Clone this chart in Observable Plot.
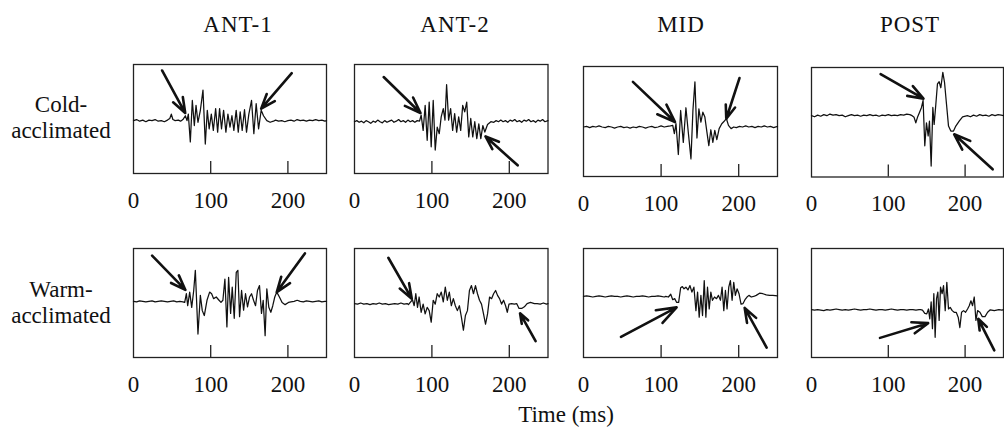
<!DOCTYPE html>
<html><head><meta charset="utf-8">
<script src="https://cdn.jsdelivr.net/npm/d3@7"></script>
<script src="https://cdn.jsdelivr.net/npm/@observablehq/plot@0.6"></script>
<style>
body{margin:0;background:#fff}
#chart{position:relative;width:1004px;height:430px;overflow:hidden;font-family:"Liberation Serif","Times New Roman",serif;color:#111}
#chart svg.panel{position:absolute}
#chart svg.labels{position:absolute;left:0;top:0}
</style></head><body><div id="chart"></div>
<script>
// ---------- data ----------
const muscles = ["ANT-1", "ANT-2", "MID", "POST"];
const groups = [["Cold-", "acclimated"], ["Warm-", "acclimated"]];
const xLabel = "Time (ms)";
const xTicks = [0, 100, 200];
const innerTicks = [100, 200];

// traces: [time ms, amplitude]
const coldAnt1 = [[0,-0.03],[4,-0.01],[8,-0.04],[12,-0.02],[16,-0.05],[20,-0.02],[24,-0.03],[28,-0.01],[32,-0.04],[36,-0.03],[40,-0.05],[44,-0.02],[47,0.01],[49,0.09],[51,-0.01],[54,-0.03],[58,-0.02],[61,-0.04],[64,-0.01],
[67.2,0.06],[69.3,-0.03],[71,0.09],[73.6,-0.42],[76.2,0.34],[78.8,-0.12],[81,0.25],[83.5,-0.06],[86.6,0.16],[90,0.53],[93,-0.46],[95.6,0.16],[98,-0.18],[100.8,0.09],[103.4,-0.21],[106.4,0.19],[109,-0.24],[111.5,0.19],[114,-0.18],[116.7,0.16],[119.7,-0.24],[122.3,0.09],[125,-0.15],[127.5,0.06],[130,-0.21],[133,0.16],[135.7,-0.24],[138.2,0.13],[140.8,-0.21],[143.8,0.17],[146.4,-0.24],[149.4,0.09],[152.9,0.34],[155.9,-0.27],[158.9,0.28],[162,-0.18],[165.4,0.16],[168.4,0.06],[172.7,-0.03],[177,-0.06],[181.3,-0.04],
[184,-0.02],[188,-0.04],[192,-0.03],[196,-0.05],[200,-0.03],[204,-0.02],[208,-0.04],[212,-0.01],[216,-0.03],[220,-0.02],[224,-0.04],[228,-0.02],[232,-0.03],[236,-0.01],[240,-0.03],[244,-0.02],[248,-0.04],[250,-0.03]];

const coldAnt2 = [[0,-0.05],[3,-0.03],[6,-0.06],[9,-0.04],[12,-0.07],[15,-0.03],[18,-0.05],[21,-0.08],[24,-0.04],[27,-0.06],[30,-0.02],[33,-0.05],[36,-0.07],[39,-0.03],[42,-0.06],[45,-0.04],[48,-0.02],[51,-0.06],[54,-0.04],[57,-0.01],[60,-0.05],[63,-0.03],[66,-0.06],[69,-0.02],[72,-0.05],[75,-0.03],[78,-0.06],[81,-0.03],[84,-0.04],
[86.1,0.07],[88.7,-0.21],[91.3,0.25],[93.9,-0.39],[96.5,0.31],[99.1,-0.51],[101.7,0.34],[104.3,-0.57],[106.9,-0.15],[109.5,-0.27],[112,0.04],[114.7,0.19],[116.9,-0.02],[119,0.63],[121.6,-0.02],[124.2,0.19],[126.8,-0.21],[129.4,0.10],[132,-0.24],[134.6,0.04],[137.2,-0.21],[139.8,0.25],[142.4,0.13],[145,0.31],[147.6,-0.33],[150.2,0.01],[152.8,-0.33],[155.4,-0.05],[158,-0.36],[160.6,-0.09],[163.2,-0.36],[165.8,-0.12],[168.4,-0.24],[171.9,-0.10],[176.2,-0.05],
[180,-0.06],[183,-0.03],[186,-0.05],[189,-0.02],[192,-0.05],[195,-0.03],[198,-0.06],[201,-0.02],[204,-0.04],[207,-0.01],[210,-0.05],[213,-0.03],[216,-0.06],[219,-0.02],[222,-0.04],[225,-0.01],[228,-0.05],[231,-0.03],[234,-0.06],[237,-0.02],[240,-0.04],[243,-0.01],[246,-0.05],[250,-0.03]];

const coldMid = [[0,-0.10],[4,-0.09],[8,-0.11],[12,-0.09],[16,-0.10],[20,-0.08],[24,-0.10],[28,-0.11],[32,-0.09],[36,-0.10],[40,-0.12],[44,-0.10],[48,-0.09],[52,-0.11],[56,-0.10],[60,-0.12],[64,-0.10],[68,-0.11],[72,-0.09],[76,-0.10],[80,-0.12],[84,-0.10],[88,-0.09],[92,-0.11],[96,-0.10],[100,-0.08],[104,-0.10],[108,-0.09],[112,-0.08],
[115,-0.07],[117.1,-0.22],[119.2,-0.04],[122.2,-0.60],[125.2,0.20],[128.6,-0.38],[132,0.25],[135,-0.19],[138.5,-0.68],[141,0.20],[143.6,0.72],[146.2,-0.30],[148.7,0.23],[151.3,-0.01],[153.8,0.17],[156.4,0.08],[159,-0.19],[161.5,-0.44],[164.1,-0.15],[166.7,-0.38],[169.2,-0.16],[171.8,-0.33],[174.8,-0.13],[178.2,-0.04],[181.6,0.01],[184.2,0.05],[186.8,-0.07],[190.2,-0.13],[193.6,-0.10],
[197,-0.11],[201,-0.09],[205,-0.10],[209,-0.08],[213,-0.10],[217,-0.09],[221,-0.11],[225,-0.09],[229,-0.10],[233,-0.08],[237,-0.10],[241,-0.09],[245,-0.11],[250,-0.09]];

const coldPost = [[0,0.12],[4,0.10],[8,0.13],[12,0.11],[16,0.14],[20,0.12],[24,0.15],[28,0.13],[32,0.14],[36,0.12],[40,0.13],[44,0.10],[48,0.12],[52,0.14],[56,0.12],[60,0.13],[64,0.11],[68,0.13],[72,0.12],[76,0.14],[80,0.12],[84,0.13],[88,0.11],[92,0.13],[96,0.12],[100,0.14],[104,0.12],[108,0.13],[112,0.12],[116,0.14],[120,0.13],[124,0.15],[128,0.14],[131,0.12],
[133.6,0.09],[135.8,-0.01],[138,0.09],[140.6,0.18],[143.2,0.27],[145.3,0.40],[147.5,-0.43],[149.7,-0.01],[151.9,-0.25],[153.6,0.02],[155.8,-0.80],[158,0.27],[159.7,-0.04],[161.9,0.33],[164,0.70],[166.2,0.74],[168.4,0.63],[171,0.91],[173.2,0.73],[175.8,0.33],[178.4,-0.07],[181.4,-0.16],[184.9,-0.16],[187.9,-0.07],[192.3,0.02],[196.7,0.10],[203,0.12],
[207,0.10],[211,0.13],[215,0.11],[219,0.14],[223,0.12],[227,0.13],[231,0.11],[235,0.14],[239,0.12],[243,0.14],[247,0.13],[250,0.12]];

const warmAnt1 = [[0,0.03],[4,0.02],[8,0.04],[12,0.03],[16,0.02],[20,0.03],[24,0.04],[28,0.02],[32,0.03],[36,0.04],[40,0.03],[44,0.02],[48,0.03],[52,0.04],[56,0.02],[60,0.03],[64,0.02],
[66.3,0.01],[68.5,0.17],[70.2,-0.05],[72.8,0.20],[75.4,-0.08],[78,0.23],[80.1,0.60],[83.5,-0.57],[86.6,0.14],[89.1,-0.14],[91.7,-0.23],[95.2,0.05],[98.6,0.20],[101.2,0.17],[103.8,0.08],[107.2,0.11],[110.2,0.06],[113.3,0.01],[115.8,0.05],[118.4,0.44],[121,-0.44],[123.2,0.47],[125.8,-0.19],[127.9,0.29],[130.5,-0.28],[133.1,0.56],[135.2,0.60],[137.4,-0.25],[140,0.23],[142.6,-0.13],[145.1,0.17],[147.7,-0.07],[150.3,0.11],[152.9,0.17],[155.5,0.05],[158.1,-0.05],[160.6,0.23],[163.2,0.32],[165.8,-0.19],[168,0.05],[170.5,-0.60],[172.7,0.26],[175.3,-0.08],[177.9,-0.17],[180.4,-0.05],[183,0.11],[185.6,0.20],[189,0.11],[192.5,0.01],[196.4,-0.03],[200.7,0.01],
[204,0.02],[208,0.03],[212,0.05],[216,0.03],[220,0.02],[224,0.04],[228,0.03],[232,0.02],[236,0.03],[240,0.04],[244,0.02],[248,0.03],[250,0.03]];

const warmAnt2 = [[0,-0.01],[4,-0.02],[8,0.0],[12,-0.02],[16,-0.01],[20,-0.03],[24,-0.01],[28,-0.02],[32,0.0],[36,-0.02],[40,-0.01],[44,-0.03],[48,-0.02],[52,-0.01],[56,-0.02],[60,0.0],[64,-0.02],[68,-0.01],
[69.7,-0.03],[72.3,0.015],[74.9,0.06],[77.1,-0.05],[79.2,0.17],[81.4,-0.08],[83.5,0.11],[86.1,-0.17],[88.7,-0.02],[91.3,-0.20],[93.9,-0.08],[96.5,-0.14],[99.1,-0.35],[101.7,0.05],[104.3,-0.02],[106.9,0.17],[109.5,0.11],[112.1,0.20],[114.7,0.02],[117.3,0.29],[119.9,0.05],[122.5,0.20],[125.1,-0.05],[127.7,0.08],[130.3,-0.05],[132.9,-0.14],[135.5,-0.05],[138.1,-0.26],[140.7,-0.50],[143.3,-0.23],[145.9,-0.14],[148.5,0.23],[151.1,0.32],[153.7,0.17],[156.3,0.32],[158.9,0.17],[161.5,0.05],[164.1,-0.02],[166.7,-0.20],[169.3,-0.39],[171.9,-0.20],[174.5,0.11],[177.1,0.08],[179.7,0.17],[182.3,0.23],[184.8,0.14],[187.4,0.08],[190,-0.02],[192.6,0.05],[195.2,-0.05],[197.4,-0.17],[199.6,-0.02],[203,-0.01],[206.5,-0.02],[209.5,-0.01],[212.6,-0.10],[216,-0.10],[219.5,-0.07],[223,-0.01],[227.3,0.01],[232.5,-0.01],
[236,-0.01],[240,-0.02],[244,0.0],[248,-0.02],[250,-0.01]];

const warmMid = [[0,0.12],[4,0.13],[8,0.12],[12,0.11],[16,0.12],[20,0.13],[24,0.12],[28,0.11],[32,0.12],[36,0.13],[40,0.12],[44,0.12],[48,0.11],[52,0.12],[56,0.13],[60,0.12],[64,0.11],[68,0.12],[72,0.12],[76,0.13],[80,0.12],[84,0.11],[88,0.12],[92,0.12],[96,0.13],[100,0.12],[104,0.11],[106,0.12],
[109.4,0.11],[112.4,0.16],[115,0.06],[117.5,0.08],[120.1,0.01],[122.6,0.01],[125.2,0.28],[127.4,0.30],[129.5,0.26],[132,0.29],[134.6,0.24],[137.2,0.32],[139.7,0.20],[142.3,0.29],[144.9,-0.14],[147,0.20],[149.1,-0.26],[151.3,0.14],[153.4,-0.23],[155.6,0.41],[157.7,-0.26],[159.8,0.29],[162,-0.11],[164.1,0.20],[166.2,0.05],[168.8,0.11],[171.4,0.08],[173.9,0.14],[176.5,0.05],[178.6,0.29],[180.8,-0.14],[182.9,0.23],[185,-0.11],[187.2,0.29],[189.3,0.41],[191.5,0.05],[193.6,0.38],[195.7,0.14],[197.9,0.26],[200.4,0.17],[203,-0.02],[205.6,-0.01],[208.1,0.06],[210.7,0.11],[213.2,0.14],[216.2,0.11],[219.2,0.12],[222.6,0.14],[226.9,0.18],[231.2,0.17],[235.5,0.15],[239.7,0.14],[244,0.14],[250,0.13]];

const warmPost = [[0,-0.12],[4,-0.13],[8,-0.12],[12,-0.13],[16,-0.14],[20,-0.12],[24,-0.13],[28,-0.12],[32,-0.11],[36,-0.12],[40,-0.13],[44,-0.12],[48,-0.13],[52,-0.12],[56,-0.11],[60,-0.12],[64,-0.13],[68,-0.12],[72,-0.12],[76,-0.11],[80,-0.12],[84,-0.13],[88,-0.12],[92,-0.12],[96,-0.13],[100,-0.12],[104,-0.11],[108,-0.12],[112,-0.13],[116,-0.12],[120,-0.12],[124,-0.13],[128,-0.12],[132,-0.12],[136,-0.13],[140,-0.12],[142,-0.12],
[144.5,-0.13],[147.5,-0.19],[150.1,-0.20],[152.3,-0.11],[154,-0.29],[155.8,0.02],[157.5,-0.47],[159.3,0.17],[161,-0.63],[162.8,0.08],[164.5,0.20],[166.2,-0.32],[168,0.29],[170.1,0.17],[171.9,0.32],[174.1,-0.14],[176.2,0.38],[178.4,-0.11],[180.6,-0.08],[183.2,-0.14],[185.8,-0.17],[188.4,-0.17],[191,-0.26],[193.2,-0.45],[195.4,-0.17],[198,-0.14],[200.6,-0.17],[203.2,-0.11],[205.4,-0.05],[207.6,0.04],[209.7,-0.05],[211.9,0.11],[214.1,-0.32],[216.3,-0.14],[219.3,-0.17],[222.4,-0.25],[225.9,-0.25],[229.3,-0.17],[232.8,-0.125],[238,-0.14],[244,-0.12],[248,-0.13],[250,-0.12]];

// arrows: [x1, y1, x2 (tip), y2 (tip)] in data units
const coldAnt1Arrows = [[37,0.89,67,0.11],[205,0.84,165.4,0.19]];
const coldAnt2Arrows = [[37.7,0.77,85.3,0.11],[210.8,-0.85,169.3,-0.32]];
const coldMidArrows = [[63.7,0.72,118,-0.01],[201,0.79,184,0.05]];
const coldPostArrows = [[90,0.88,145.8,0.43],[235.9,-0.86,185.8,-0.22]];
const warmAnt1Arrows = [[24.1,0.87,67.2,0.24],[222,0.91,185.6,0.20]];
const warmAnt2Arrows = [[43.7,0.83,74,0.08],[234,-0.70,213.9,-0.19]];
const warmMidArrows = [[48.3,-0.62,120,-0.08],[236,-0.82,207.7,-0.09]];
const warmPostArrows = [[89.2,-0.64,151.9,-0.37],[238,-0.87,217.1,-0.29]];

const traces = [[coldAnt1, coldAnt2, coldMid, coldPost], [warmAnt1, warmAnt2, warmMid, warmPost]];
const arrows = [[coldAnt1Arrows, coldAnt2Arrows, coldMidArrows, coldPostArrows], [warmAnt1Arrows, warmAnt2Arrows, warmMidArrows, warmPostArrows]];

// ---------- layout ----------
const colL = [133, 353.5, 583, 811];
const colR = [326, 547, 777, 1003];
const rowT = [[64, 64, 66, 66.5], [248, 248, 248, 248]];
const rowB = [[173, 173, 176, 176], [357, 357, 357, 357]];
const titleX = [238, 455, 681, 910];
const FONT = "Liberation Serif, Times New Roman, serif";
const FS = 23;

const chart = document.getElementById("chart");
const M = 34;
for (let r = 0; r < 2; r++) {
  for (let c = 0; c < 4; c++) {
    const L = colL[c], R = colR[c], T = rowT[r][c], B = rowB[r][c];
    const svg = Plot.plot({
      width: (R - L) + 2 * M, height: (B - T) + 2 * M,
      marginLeft: M, marginRight: M, marginTop: M, marginBottom: M,
      x: {domain: [0, 250], axis: null},
      y: {domain: [-1, 1], axis: null},
      style: {background: "transparent", overflow: "visible", fontFamily: FONT},
      marks: [
        Plot.frame({stroke: "#222", strokeWidth: 1.3}),
        Plot.ruleX(innerTicks, {y1: -1, y2: -0.78, stroke: "#222", strokeWidth: 1.3}),
        Plot.line(traces[r][c], {x: d => d[0], y: d => d[1], stroke: "#111", strokeWidth: 1.25}),
        Plot.arrow(arrows[r][c], {x1: d => d[0], y1: d => d[1], x2: d => d[2], y2: d => d[3],
          stroke: "#111", strokeWidth: 2.6, headLength: 15, headAngle: 40}),
        Plot.text(xTicks, {x: d => d, y: -1, dy: 27, text: d => String(d), fontSize: FS, lineAnchor: "middle", fill: "#111"})
      ]
    });
    svg.classList.add("panel");
    svg.style.left = (L - M) + "px";
    svg.style.top = (T - M) + "px";
    chart.appendChild(svg);
  }
}

const lab = d3.create("svg").attr("class", "labels").attr("width", 1004).attr("height", 430)
  .style("font-family", FONT).style("font-size", FS + "px").attr("fill", "#111");
muscles.forEach((m, i) => lab.append("text").attr("x", titleX[i]).attr("y", 32)
  .attr("text-anchor", "middle").attr("letter-spacing", "1px").text(m));
const rowLabelY = [[112, 138], [297, 323]];
groups.forEach((g, r) => g.forEach((s, j) => lab.append("text").attr("x", 61).attr("y", rowLabelY[r][j])
  .attr("text-anchor", "middle").text(s)));
lab.append("text").attr("x", 566).attr("y", 422).attr("text-anchor", "middle").text(xLabel);
chart.appendChild(lab.node());
</script></body></html>
